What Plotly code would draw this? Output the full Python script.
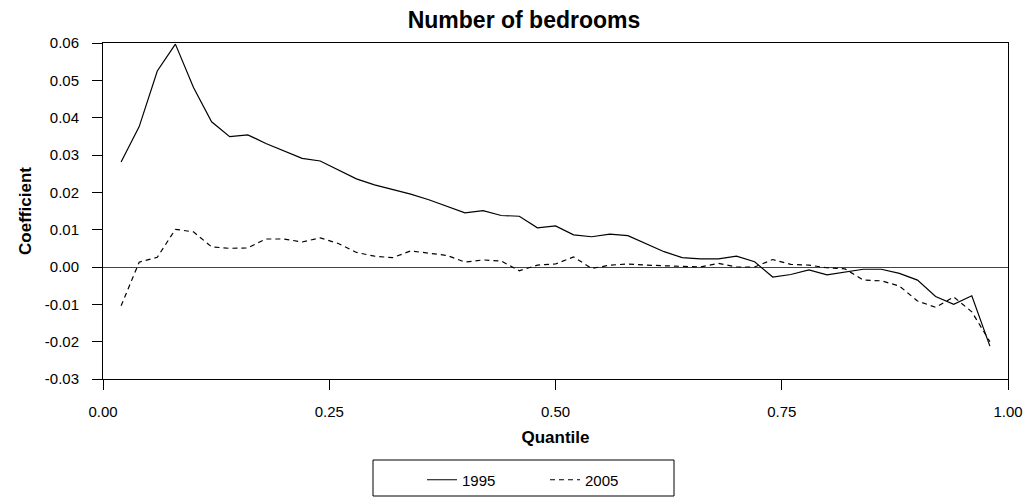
import plotly.graph_objects as go

# Quantile grid and estimated coefficients for the number-of-bedrooms variable
quantiles = [round(0.02 * i, 2) for i in range(1, 50)]

coef_1995 = [
    0.0281, 0.0376, 0.0525, 0.0597, 0.0481, 0.0389, 0.0349, 0.0354, 0.0331, 0.0311,
    0.0291, 0.0284, 0.0260, 0.0236, 0.0220, 0.0208, 0.0195, 0.0180, 0.0163, 0.0145,
    0.0151, 0.0138, 0.0136, 0.0105, 0.0110, 0.0086, 0.0081, 0.0088, 0.0084, 0.0062,
    0.0041, 0.0025, 0.0022, 0.0022, 0.0029, 0.0014, -0.0027, -0.0020, -0.0008, -0.0021,
    -0.0013, -0.0006, -0.0006, -0.0017, -0.0035, -0.0079, -0.0100, -0.0077, -0.0212,
]

coef_2005 = [
    -0.0104, 0.0013, 0.0026, 0.0101, 0.0094, 0.0054, 0.0050, 0.0051, 0.0075, 0.0075,
    0.0067, 0.0078, 0.0063, 0.0039, 0.0029, 0.0025, 0.0043, 0.0036, 0.0031, 0.0013,
    0.0019, 0.0016, -0.0010, 0.0005, 0.0008, 0.0027, -0.0004, 0.0005, 0.0008, 0.0005,
    0.0003, 0.0000, 0.0000, 0.0010, 0.0000, 0.0000, 0.0020, 0.0007, 0.0005, -0.0002,
    -0.0005, -0.0035, -0.0037, -0.0051, -0.0091, -0.0108, -0.0080, -0.0120, -0.0200,
]

x_ticks = [0.0, 0.25, 0.5, 0.75, 1.0]
x_tick_labels = ["0.00", "0.25", "0.50", "0.75", "1.00"]
y_ticks = [0.06, 0.05, 0.04, 0.03, 0.02, 0.01, 0.0, -0.01, -0.02, -0.03]
y_tick_labels = ["0.06", "0.05", "0.04", "0.03", "0.02", "0.01", "0.00", "-0.01", "-0.02", "-0.03"]

FONT = "Liberation Sans, Arial, sans-serif"

# plot-area geometry in pixels
L, R, T, B = 103, 1008, 43, 379
PW, PH = R - L, B - T

fig = go.Figure()
fig.add_trace(go.Scatter(
    x=quantiles, y=coef_1995, mode="lines", name="1995",
    line=dict(color="black", width=1.2),
))
fig.add_trace(go.Scatter(
    x=quantiles, y=coef_2005, mode="lines", name="2005",
    line=dict(color="black", width=1.2, dash="5px,4px"),
))

# legend frame below the axis title
fig.add_shape(
    type="rect", xref="paper", yref="paper",
    x0=(373 - L) / PW, x1=(674 - L) / PW,
    y0=-(496 - B) / PH, y1=-(460 - B) / PH,
    line=dict(color="black", width=1), fillcolor="white", layer="below",
)

fig.update_layout(
    width=1033, height=497,
    margin=dict(l=L, r=1033 - R, t=T, b=497 - B, autoexpand=False),
    paper_bgcolor="white", plot_bgcolor="white",
    font=dict(family=FONT, size=15, color="black"),
    title=dict(
        text="<b>Number of bedrooms</b>", x=524 / 1033, xanchor="center",
        y=1 - 20 / 497, yanchor="middle", font=dict(size=23, family=FONT),
    ),
    showlegend=True,
    legend=dict(
        orientation="h", x=(422 - L) / PW, xanchor="left",
        y=-(480 - B) / PH, yanchor="middle",
        bgcolor="rgba(0,0,0,0)", borderwidth=0,
        font=dict(size=15, family=FONT), entrywidth=78,
    ),
    xaxis=dict(
        range=[0, 1], tickvals=x_ticks, ticktext=x_tick_labels,
        showgrid=False, zeroline=False,
        showline=True, linecolor="black", linewidth=1, mirror=True,
        ticks="outside", ticklen=10, tickcolor="black",
        tickfont=dict(size=15), ticklabelstandoff=9,
        title=dict(text="<b>Quantile</b>", font=dict(size=17), standoff=12),
    ),
    yaxis=dict(
        range=[-0.03, 0.06], tickvals=y_ticks, ticktext=y_tick_labels,
        showgrid=False, zeroline=True, zerolinecolor="#444", zerolinewidth=1,
        showline=True, linecolor="black", linewidth=1, mirror=True,
        ticks="outside", ticklen=10, tickcolor="black",
        tickfont=dict(size=15), ticklabelstandoff=10,
        title=dict(text="<b>Coefficient</b>", font=dict(size=17), standoff=8),
    ),
)

fig.write_html("out.html")
